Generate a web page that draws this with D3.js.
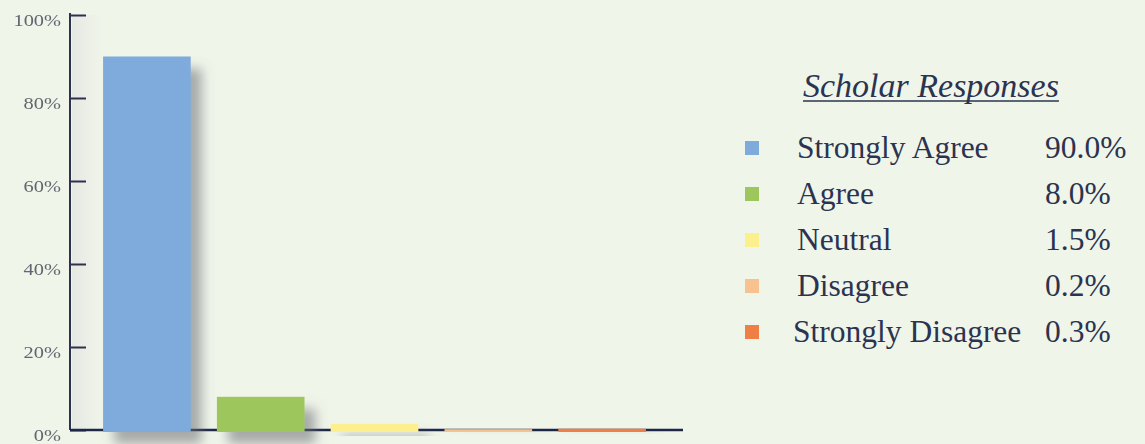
<!DOCTYPE html>
<html>
<head>
<meta charset="utf-8">
<script src="https://cdn.jsdelivr.net/npm/d3@7"></script>
<style>
  body { margin: 0; background: #f0f5ea; }
  svg { display: block; }
</style>
</head>
<body>
<div id="chart"></div>
<script>
// data
var categories = ["Strongly Agree", "Agree", "Neutral", "Disagree", "Strongly Disagree"];
var values = [90.0, 8.0, 1.5, 0.2, 0.3];
var valueLabels = ["90.0%", "8.0%", "1.5%", "0.2%", "0.3%"];
var colors = ["#7eaadc", "#9dc65b", "#fcf08e", "#f7c28f", "#ef7f45"];
var yTicks = [0, 20, 40, 60, 80, 100];
var legendTitle = "Scholar Responses";

var width = 1145,
    height = 444;

var svg = d3.select("#chart")
  .append("svg")
  .attr("width", width)
  .attr("height", height);

var defs = svg.append("defs");
var shadow = defs.append("filter").attr("id", "shadow")
  .attr("x", "-20%").attr("y", "-20%").attr("width", "160%").attr("height", "160%");
shadow.append("feDropShadow")
  .attr("dx", 11).attr("dy", 12).attr("stdDeviation", 6)
  .attr("flood-color", "#6a6c72").attr("flood-opacity", 0.55);

var soft = defs.append("filter").attr("id", "soft");
soft.append("feGaussianBlur").attr("stdDeviation", 0.4);

var band = defs.append("linearGradient").attr("id", "band");
band.append("stop").attr("offset", "0%").attr("stop-color", "#e4e7e2").attr("stop-opacity", 0.9);
band.append("stop").attr("offset", "100%").attr("stop-color", "#e4e7e2").attr("stop-opacity", 0);

var x = d3.scaleBand()
  .domain(categories)
  .range([90, 659])
  .paddingInner(0.23)
  .paddingOuter(0.115);

var y = d3.scaleLinear()
  .domain([0, 100])
  .range([430, 15]);

var axisX0 = 70, axisX1 = 683;

// faint light band next to the y axis
svg.append("rect")
  .attr("x", axisX0 + 2).attr("y", y(100))
  .attr("width", 30).attr("height", y(0) - y(100))
  .attr("fill", "url(#band)");

// y axis
var yAxis = d3.axisRight(y)
  .tickValues(yTicks)
  .tickSize(16)
  .tickFormat(function(d) { return d + "%"; });

var stretch = 1.2;
var gy = svg.append("g")
  .attr("transform", "translate(" + axisX0 + ",0)")
  .call(yAxis);
gy.select(".domain").remove();
gy.selectAll(".tick line")
  .attr("stroke", "#2c3150").attr("stroke-width", 2);
gy.selectAll(".tick text")
  .attr("x", -9 / stretch)
  .attr("dy", "0.6em")
  .attr("transform", "scale(" + stretch + ",1)")
  .attr("text-anchor", "end")
  .attr("fill", "#62666f")
  .attr("font-family", "'Liberation Serif', serif")
  .attr("font-size", 17)
  .attr("filter", "url(#soft)");

svg.append("line")
  .attr("x1", axisX0).attr("x2", axisX0)
  .attr("y1", y(100) - 2).attr("y2", y(0))
  .attr("stroke", "#2c3150").attr("stroke-width", 2);

// x axis line
svg.append("line")
  .attr("x1", axisX0).attr("x2", axisX1)
  .attr("y1", y(0)).attr("y2", y(0))
  .attr("stroke", "#1f2748").attr("stroke-width", 2.5);

// bars
svg.append("g")
  .selectAll("rect")
  .data(values)
  .enter()
  .append("rect")
  .attr("x", function(d, i) { return x(categories[i]); })
  .attr("y", function(d) { return y(d); })
  .attr("width", x.bandwidth())
  .attr("height", function(d) { return y(0) - y(d) + 2; })
  .attr("fill", function(d, i) { return colors[i]; })
  .attr("filter", "url(#shadow)");

// legend
var legend = svg.append("g");
var font = "'Liberation Serif', serif";

var title = legend.append("text")
  .attr("x", 803).attr("y", 97)
  .attr("font-family", font)
  .attr("font-style", "italic")
  .attr("font-size", 34)
  .attr("fill", "#2b3350")
  .text(legendTitle);
var tw = title.node().getComputedTextLength();
legend.append("line")
  .attr("x1", 803).attr("x2", 803 + tw)
  .attr("y1", 101).attr("y2", 101)
  .attr("stroke", "#2b3350").attr("stroke-width", 1.5);

var rowY = d3.scalePoint()
  .domain(categories)
  .range([158, 342]);

var rows = legend.selectAll(".row")
  .data(categories)
  .enter()
  .append("g")
  .attr("class", "row")
  .attr("transform", function(d) { return "translate(0," + rowY(d) + ")"; });

rows.append("rect")
  .attr("x", 745).attr("y", -17)
  .attr("width", 14).attr("height", 14)
  .attr("fill", function(d, i) { return colors[i]; })
  .attr("filter", "url(#soft)");

rows.append("text")
  .attr("x", function(d, i) { return i === 4 ? 793 : 797; })
  .attr("y", 0)
  .attr("font-family", font)
  .attr("font-size", 31.5)
  .attr("fill", "#2b3350")
  .text(function(d) { return d; });

rows.append("text")
  .attr("x", 1045)
  .attr("y", 0)
  .attr("font-family", font)
  .attr("font-size", 31.5)
  .attr("fill", "#2b3350")
  .text(function(d, i) { return valueLabels[i]; });
</script>
</body>
</html>
